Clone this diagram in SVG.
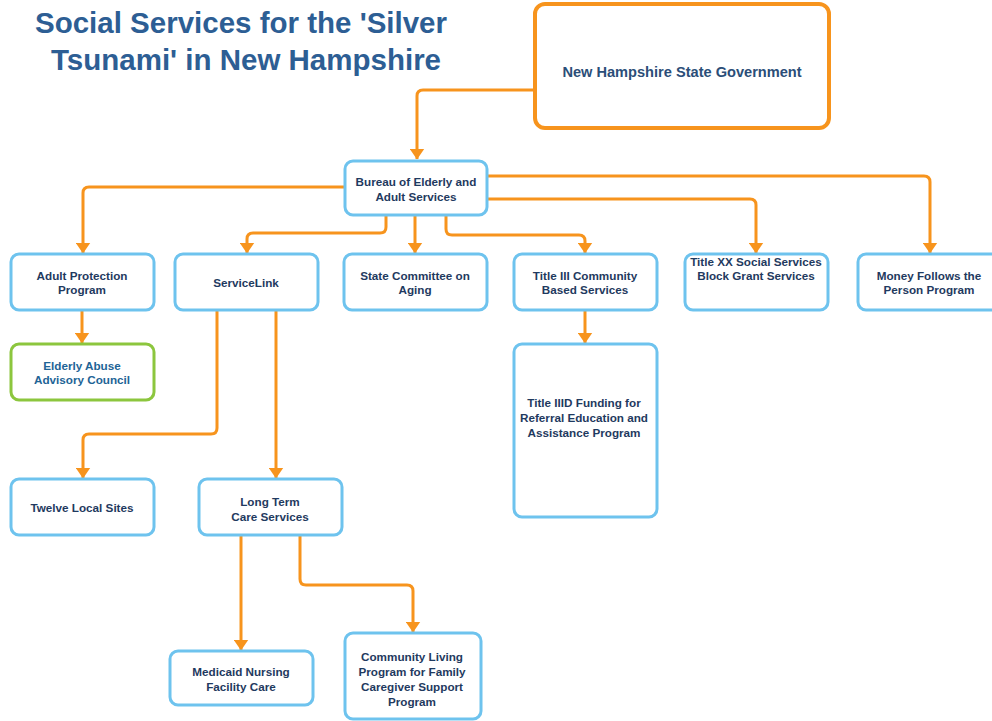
<svg xmlns="http://www.w3.org/2000/svg" width="992" height="721" viewBox="0 0 992 721">
  <style>
    .title { font-family: "Liberation Sans", Arial, sans-serif; font-weight: bold; font-size: 29.5px; fill: #2d5e94; text-anchor: middle; }
    .box { fill: #ffffff; stroke: #6ec3ee; stroke-width: 3; }
    .gov { fill: #ffffff; stroke: #f7941d; stroke-width: 4; }
    .green { fill: #ffffff; stroke: #8cc63e; stroke-width: 3; }
    .lbl { font-family: "Liberation Sans", Arial, sans-serif; font-weight: bold; font-size: 11.7px; fill: #1f3a60; text-anchor: middle; }
    .lbl-teal { fill: #1e6496; }
    .lbl-big { font-size: 14.6px; fill: #2b4e78; }
    .link { fill: none; stroke: #f7941d; stroke-width: 3; marker-end: url(#arrow); }
  </style>
  <defs>
    <marker id="arrow" markerUnits="userSpaceOnUse" markerWidth="11" markerHeight="15" viewBox="0 0 11 15" refX="10.5" refY="7.5" orient="auto">
      <path d="M0,0 L11,7.5 L0,15 z" fill="#f7941d"/>
    </marker>
  </defs>

  <rect width="992" height="721" fill="#ffffff"/>

  <!-- heading -->
  <text class="title" x="241" y="33">Social Services for the 'Silver</text>
  <text class="title" x="246" y="70">Tsunami' in New Hampshire</text>

  <!-- connectors -->
  <g id="connectors">
    <path class="link" d="M535,90 H423 Q417,90 417,96 V159"/>
    <path class="link" d="M345,187 H89 Q83,187 83,193 V253"/>
    <path class="link" d="M386,215 V227 Q386,233 380,233 H253 Q247,233 247,239 V253"/>
    <path class="link" d="M415,215 V253"/>
    <path class="link" d="M446,215 V229 Q446,235 452,235 H579 Q585,235 585,241 V253"/>
    <path class="link" d="M487,176 H924 Q930,176 930,182 V253"/>
    <path class="link" d="M487,199 H750 Q756,199 756,205 V253"/>
    <path class="link" d="M82,310 V343"/>
    <path class="link" d="M585,310 V343"/>
    <path class="link" d="M217,310 V428 Q217,434 211,434 H89 Q83,434 83,440 V478"/>
    <path class="link" d="M276,310 V478"/>
    <path class="link" d="M241,535 V650"/>
    <path class="link" d="M300,535 V579 Q300,585 306,585 H407 Q413,585 413,591 V632"/>
  </g>

  <!-- nodes -->
  <g id="nh-state-government">
    <rect class="gov" x="535" y="4" width="294" height="124" rx="10"/>
    <text class="lbl lbl-big" x="682" y="77">New Hampshire State Government</text>
  </g>

  <g id="bureau">
    <rect class="box" x="345" y="161" width="142" height="54" rx="8"/>
    <text class="lbl" x="416" y="186">Bureau of Elderly and</text>
    <text class="lbl" x="416" y="201">Adult Services</text>
  </g>

  <g id="adult-protection">
    <rect class="box" x="11" y="254" width="143" height="56" rx="8"/>
    <text class="lbl" x="82" y="280">Adult Protection</text>
    <text class="lbl" x="82" y="294">Program</text>
  </g>

  <g id="servicelink">
    <rect class="box" x="175" y="254" width="143" height="56" rx="8"/>
    <text class="lbl" x="246" y="287">ServiceLink</text>
  </g>

  <g id="state-committee">
    <rect class="box" x="344" y="254" width="143" height="56" rx="8"/>
    <text class="lbl" x="415" y="280">State Committee on</text>
    <text class="lbl" x="415" y="294">Aging</text>
  </g>

  <g id="title-iii">
    <rect class="box" x="514" y="254" width="143" height="56" rx="8"/>
    <text class="lbl" x="585" y="280">Title III Community</text>
    <text class="lbl" x="585" y="294">Based Services</text>
  </g>

  <g id="title-xx">
    <rect class="box" x="685" y="254" width="143" height="56" rx="8"/>
    <text class="lbl" x="756" y="266">Title XX Social Services</text>
    <text class="lbl" x="756" y="280">Block Grant Services</text>
  </g>

  <g id="money-follows">
    <rect class="box" x="858" y="254" width="143" height="56" rx="8"/>
    <text class="lbl" x="929" y="280">Money Follows the</text>
    <text class="lbl" x="929" y="294">Person Program</text>
  </g>

  <g id="elderly-abuse">
    <rect class="green" x="11" y="344" width="143" height="56" rx="8"/>
    <text class="lbl lbl-teal" x="82" y="370">Elderly Abuse</text>
    <text class="lbl lbl-teal" x="82" y="384">Advisory Council</text>
  </g>

  <g id="title-iiid">
    <rect class="box" x="514" y="344" width="143" height="173" rx="8"/>
    <text class="lbl" x="584" y="407">Title IIID Funding for</text>
    <text class="lbl" x="584" y="422">Referral Education and</text>
    <text class="lbl" x="584" y="437">Assistance Program</text>
  </g>

  <g id="twelve-local-sites">
    <rect class="box" x="11" y="479" width="143" height="56" rx="8"/>
    <text class="lbl" x="82" y="512">Twelve Local Sites</text>
  </g>

  <g id="long-term-care">
    <rect class="box" x="199" y="479" width="143" height="56" rx="8"/>
    <text class="lbl" x="270" y="506">Long Term</text>
    <text class="lbl" x="270" y="521">Care Services</text>
  </g>

  <g id="medicaid-nursing">
    <rect class="box" x="170" y="651" width="143" height="54" rx="8"/>
    <text class="lbl" x="241" y="676">Medicaid Nursing</text>
    <text class="lbl" x="241" y="691">Facility Care</text>
  </g>

  <g id="community-living">
    <rect class="box" x="345" y="633" width="136" height="86" rx="8"/>
    <text class="lbl" x="412" y="661">Community Living</text>
    <text class="lbl" x="412" y="676">Program for Family</text>
    <text class="lbl" x="412" y="691">Caregiver Support</text>
    <text class="lbl" x="412" y="706">Program</text>
  </g>
</svg>
